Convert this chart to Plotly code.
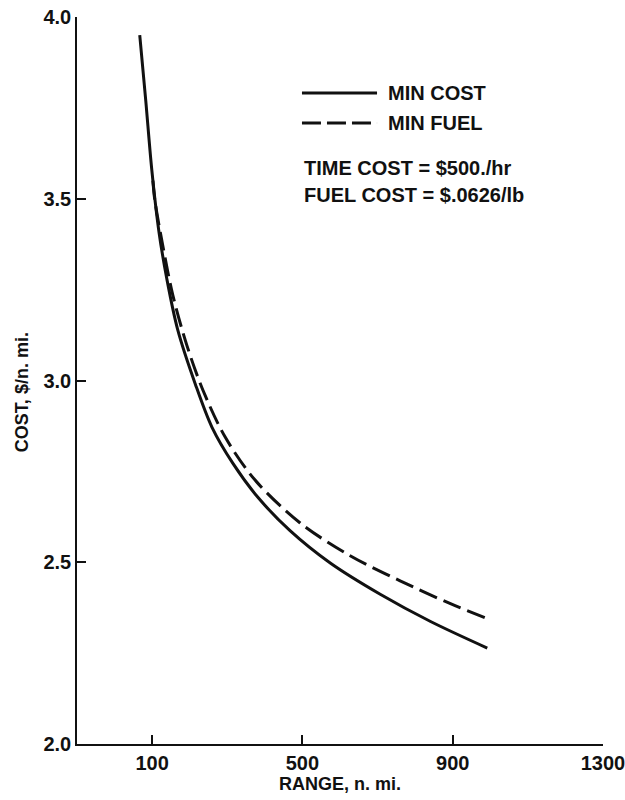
import plotly.graph_objects as go

# Cost per nautical mile versus stage length
range_min_cost = [67, 83, 99, 118, 139, 168, 215, 259, 315, 382, 467, 574, 707, 841, 992]
cost_min_cost = [3.95, 3.77, 3.58, 3.41, 3.28, 3.14, 2.99, 2.872, 2.772, 2.678, 2.587, 2.498, 2.412, 2.337, 2.264]

range_min_fuel = [102, 107, 128, 155, 192, 235, 294, 374, 494, 627, 760, 894, 995]
cost_min_fuel = [3.55, 3.497, 3.373, 3.235, 3.098, 2.974, 2.845, 2.726, 2.608, 2.518, 2.449, 2.386, 2.344]

x_ticks = [100, 500, 900, 1300]
y_ticks = [2.0, 2.5, 3.0, 3.5, 4.0]

FONT = "Liberation Sans"
INK = "#111111"

fig = go.Figure()
fig.add_trace(go.Scatter(
    x=range_min_fuel, y=cost_min_fuel, mode="lines", name="MIN FUEL",
    line=dict(color=INK, width=3, dash="19px,7px", shape="spline", smoothing=0.9),
))
fig.add_trace(go.Scatter(
    x=range_min_cost, y=cost_min_cost, mode="lines", name="MIN COST",
    line=dict(color=INK, width=3, shape="spline", smoothing=0.9),
))

fig.update_layout(
    width=625, height=800,
    margin=dict(l=77, r=22, t=17, b=56),
    paper_bgcolor="white", plot_bgcolor="white",
    showlegend=False,
    font=dict(family=FONT, color=INK, weight="bold"),
)

fig.update_xaxes(
    range=[-100, 1300], tickvals=x_ticks, automargin=False,
    showgrid=False, zeroline=False,
    showline=True, linecolor=INK, linewidth=1.5,
    ticks="inside", ticklen=9, tickwidth=1.5, tickcolor=INK,
    ticklabeloverflow="allow",
    tickfont=dict(family=FONT, size=20, color=INK, weight="bold"),
)
fig.update_yaxes(
    range=[2.0, 4.0], tickvals=y_ticks, tickformat=".1f", automargin=False,
    showgrid=False, zeroline=False,
    showline=True, linecolor=INK, linewidth=1.5,
    ticks="inside", ticklen=9, tickwidth=1.5, tickcolor=INK,
    ticklabeloverflow="allow",
    tickfont=dict(family=FONT, size=20, color=INK, weight="bold"),
)

# Axis titles, placed by hand beside the tick labels
fig.add_annotation(text="RANGE, n. mi.", xref="paper", yref="paper", x=0.5, y=0,
                   yshift=-40, xanchor="center", yanchor="middle",
                   showarrow=False, font=dict(family=FONT, size=18, color=INK, weight="bold"))
fig.add_annotation(text="COST, $/n. mi.", xref="paper", yref="paper", x=0, y=0.484,
                   xshift=-55, xanchor="center", yanchor="middle", textangle=-90,
                   showarrow=False, font=dict(family=FONT, size=18, color=INK, weight="bold"))

# Legend samples and notes
key_x0, key_x1 = 0.4277, 0.5704
fig.add_shape(type="line", xref="paper", yref="paper", x0=key_x0, x1=key_x1, y0=0.8955, y1=0.8955,
              line=dict(color=INK, width=3))
fig.add_shape(type="line", xref="paper", yref="paper", x0=key_x0, x1=key_x1, y0=0.8542, y1=0.8542,
              line=dict(color=INK, width=3, dash="19px,6px"))

notes = [
    ("MIN COST", 0.5876, 0.8955),
    ("MIN FUEL", 0.5876, 0.8542),
    ("TIME COST = $500./hr", 0.4277, 0.7923),
    ("FUEL COST = $.0626/lb", 0.4277, 0.7552),
]
for text, x, y in notes:
    fig.add_annotation(text=text, xref="paper", yref="paper", x=x, y=y,
                       xanchor="left", yanchor="middle", showarrow=False,
                       font=dict(family=FONT, size=20, color=INK, weight="bold"))

fig.write_html("out.html")
